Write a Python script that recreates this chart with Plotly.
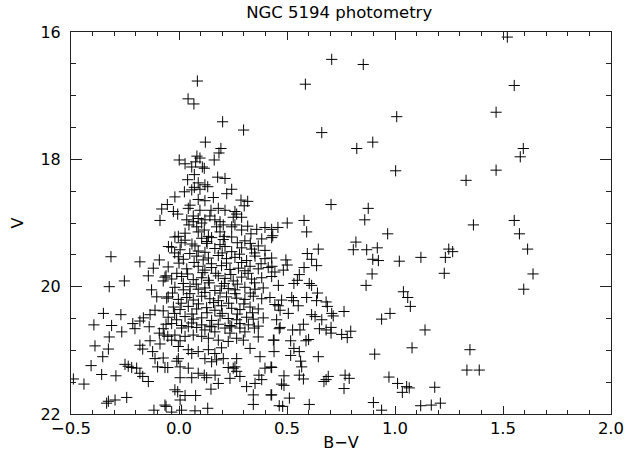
import plotly.graph_objects as go

# (B-V, V) pairs, grouped by region
red_stars = [
    (1.52, 16.08), (0.853, 16.51), (0.707, 16.43), (1.552, 16.84), (0.585, 16.82),
    (1.008, 17.33), (1.468, 17.26), (0.897, 17.73), (1.594, 17.83), (1.580, 17.96),
    (1.003, 18.18), (1.468, 18.17), (1.329, 18.33), (0.876, 18.77), (0.860, 18.95),
    (1.552, 18.96), (1.576, 19.17), (1.363, 19.03), (0.966, 19.17), (1.614, 19.41),
    (0.869, 19.42), (0.918, 19.39), (0.897, 19.57), (0.923, 19.59), (1.020, 19.60),
    (1.120, 19.54), (1.233, 19.54), (1.249, 19.41), (1.267, 19.45), (1.228, 19.79),
    (0.894, 19.80), (0.866, 19.98), (1.639, 19.80), (1.596, 20.04), (1.039, 20.08),
    (1.059, 20.17), (1.071, 20.31), (0.977, 20.42), (0.938, 20.51), (1.139, 20.68),
    (1.079, 20.96), (1.347, 20.99), (0.906, 21.06), (1.333, 21.31), (1.390, 21.31),
    (0.972, 21.42), (1.012, 21.52), (1.034, 21.66), (1.054, 21.57), (1.066, 21.59),
    (1.184, 21.58), (0.900, 21.82), (0.938, 21.94), (1.119, 21.87), (1.168, 21.86),
    (1.210, 21.83),
]

upper_stars = [
    (0.085, 16.77), (0.042, 17.05), (0.069, 17.13), (0.122, 17.73), (0.202, 17.41),
    (0.299, 17.54), (0.661, 17.58), (0.194, 17.83), (0.823, 17.83), (0.704, 18.71),
    (0.458, 19.07), (0.501, 19.00), (0.579, 18.96), (0.591, 19.14), (0.434, 19.20),
    (-0.080, 18.78), (-0.054, 18.71), (-0.088, 18.96),
    (0.185, 17.90), (0.001, 18.01), (0.028, 18.07), (0.083, 17.95), (0.097, 17.98),
    (0.077, 18.04), (0.163, 18.01), (0.059, 18.12), (0.117, 18.14), (0.108, 18.12),
    (0.071, 18.24), (0.179, 18.28), (0.213, 18.30), (0.040, 18.32), (0.089, 18.37),
    (0.120, 18.40), (0.133, 18.43), (0.071, 18.44), (0.059, 18.48), (0.244, 18.47),
    (0.221, 18.54), (0.025, 18.51), (0.097, 18.47), (-0.019, 18.59), (0.089, 18.63),
    (0.120, 18.65), (0.159, 18.60), (0.287, 18.64), (0.318, 18.66), (0.302, 18.73),
    (0.051, 18.72), (0.043, 18.77), (-0.026, 18.82), (-0.006, 18.86), (0.097, 18.80),
    (0.182, 18.77), (0.213, 18.80), (0.148, 18.80), (0.259, 18.82), (0.290, 18.91),
    (0.066, 18.89), (0.089, 18.93),
    (0.036, 18.95), (0.046, 19.03), (0.066, 18.98), (0.082, 19.06), (0.089, 19.14),
    (0.105, 19.00), (0.117, 19.11), (0.136, 19.21), (0.166, 18.95), (0.174, 19.06),
    (0.190, 18.98), (0.190, 19.14), (0.205, 19.03), (0.210, 19.21), (0.244, 19.06),
    (0.259, 19.03), (0.290, 19.11), (0.318, 19.05), (0.333, 19.17), (0.360, 19.10),
    (0.398, 19.07), (0.429, 19.10), (-0.003, 19.21), (0.028, 19.16), (0.251, 18.91),
    (0.267, 18.86), (0.143, 18.89), (0.120, 18.95),
]

blue_stars = [
    (-0.315, 19.53), (-0.181, 19.61), (-0.091, 19.58), (-0.119, 19.71), (-0.142, 19.83),
    (-0.060, 19.83), (-0.073, 19.91), (-0.253, 19.91), (-0.323, 20.00), (-0.127, 20.05),
    (-0.103, 20.16), (-0.350, 20.42), (-0.269, 20.44), (-0.394, 20.60), (-0.312, 20.61),
    (-0.214, 20.58), (-0.181, 20.54), (-0.165, 20.49), (-0.134, 20.44), (-0.111, 20.37),
    (-0.073, 20.38), (-0.057, 20.18), (-0.138, 20.63), (-0.060, 20.59), (-0.049, 19.37),
    (-0.265, 20.71), (-0.204, 20.66), (-0.073, 20.66), (-0.323, 20.79), (-0.389, 20.93),
    (-0.327, 20.98), (-0.353, 21.10), (-0.407, 21.24), (-0.358, 21.38), (-0.292, 21.40),
    (-0.489, 21.45), (-0.440, 21.53), (-0.250, 21.22), (-0.235, 21.25), (-0.219, 21.27),
    (-0.196, 21.28), (-0.181, 21.36), (-0.168, 21.41), (-0.142, 21.49), (-0.181, 20.92),
    (-0.168, 20.98), (-0.134, 20.85), (-0.088, 20.90), (-0.122, 21.02), (-0.111, 21.13),
    (-0.073, 21.12), (-0.099, 21.26), (-0.065, 21.27), (-0.091, 20.73), (-0.069, 20.76),
    (-0.335, 21.83), (-0.327, 21.80), (-0.296, 21.78), (-0.242, 21.74), (-0.116, 21.94),
    (-0.060, 21.88),
]

faint_stars = [
    (-0.065, 21.86), (-0.034, 21.97), (0.012, 21.94), (0.074, 21.95), (0.133, 21.91),
    (0.005, 21.78), (-0.006, 21.65), (-0.019, 21.62), (0.028, 21.71), (0.077, 21.71),
    (0.148, 21.61), (0.344, 21.70), (0.344, 21.85), (0.426, 21.70), (-0.052, 21.27),
    (-0.003, 21.13), (-0.010, 21.17), (0.005, 21.26), (0.043, 21.28), (0.059, 21.43),
    (0.005, 21.43), (0.089, 21.36), (0.117, 21.39), (0.128, 21.43), (0.167, 21.39),
    (0.182, 21.52), (0.228, 21.27), (0.251, 21.28), (0.236, 21.44), (0.282, 21.41),
    (0.267, 21.33), (0.313, 21.57), (0.352, 21.52), (0.370, 21.39), (0.383, 21.46),
    (0.398, 21.28), (0.426, 21.26), (-0.003, 20.94), (0.005, 20.85), (0.043, 20.99),
    (0.059, 21.05), (0.089, 21.02), (0.120, 21.13), (0.151, 21.18), (0.174, 21.15),
    (0.205, 21.13), (0.267, 21.13), (0.259, 21.26), (0.136, 20.99), (0.166, 21.05),
    (0.197, 20.96), (0.375, 21.10), (0.329, 20.97), (0.437, 20.84), (0.367, 20.79),
    (0.349, 20.65),
    (0.012, 20.65), (0.043, 20.63), (0.082, 20.64), (0.120, 20.68), (0.166, 20.71),
    (0.213, 20.65), (0.244, 20.63), (0.282, 20.65), (0.267, 20.81), (0.298, 20.84),
    (0.228, 20.86), (0.182, 20.84), (0.136, 20.81), (0.105, 20.78), (0.066, 20.76),
    (0.028, 20.78), (-0.019, 20.76), (-0.034, 20.84), (-0.052, 20.78), (0.305, 20.71),
    (0.236, 20.73), (0.151, 20.63),
    (0.464, 20.66), (0.526, 20.68), (0.560, 20.68), (0.650, 20.66), (0.681, 20.68),
    (0.704, 20.64), (0.704, 20.73), (0.753, 20.75), (0.779, 20.80), (0.795, 20.70),
    (0.440, 20.84), (0.517, 20.85), (0.588, 20.85), (0.600, 20.83), (0.532, 20.97),
    (0.517, 21.08), (0.557, 21.02), (0.440, 21.02), (0.563, 21.17), (0.568, 21.26),
    (0.645, 21.10), (0.429, 21.27), (0.486, 21.40), (0.475, 21.53), (0.486, 21.55),
    (0.557, 21.39), (0.576, 21.45), (0.671, 21.49), (0.691, 21.41), (0.681, 21.46),
    (0.769, 21.39), (0.788, 21.44), (0.764, 21.60), (0.429, 21.70), (0.511, 21.75),
    (0.464, 21.87), (0.480, 21.88), (0.603, 21.85),
]

mid_red_stars = [
    (0.594, 19.48), (0.645, 19.41), (0.614, 19.57), (0.495, 19.58), (0.501, 19.66),
    (0.483, 19.74), (0.444, 19.77), (0.430, 19.68), (0.579, 19.70), (0.637, 19.67),
    (0.557, 19.81), (0.548, 19.90), (0.532, 19.95), (0.603, 19.95), (0.614, 19.98),
    (0.460, 19.98), (0.819, 19.30), (0.807, 19.42), (0.641, 20.10), (0.591, 20.17),
    (0.637, 20.22), (0.522, 20.17), (0.530, 20.22), (0.475, 20.21), (0.552, 20.30),
    (0.444, 20.28), (0.460, 20.30), (0.468, 20.37), (0.506, 20.42), (0.681, 20.24),
    (0.687, 20.31), (0.707, 20.42), (0.714, 20.46), (0.764, 20.39), (0.614, 20.44),
    (0.630, 20.47), (0.661, 20.52), (0.576, 20.59), (0.452, 20.52), (0.468, 20.64),
]

core_stars = [
    (-0.019, 19.22), (0.028, 19.27), (0.105, 19.24), (0.128, 19.29), (0.151, 19.23),
    (0.205, 19.26), (0.244, 19.22), (0.305, 19.28), (0.383, 19.25), (0.429, 19.23),
    (-0.034, 19.38), (0.005, 19.42), (0.074, 19.36), (0.089, 19.44), (0.166, 19.40),
    (0.213, 19.37), (0.244, 19.45), (0.290, 19.39), (0.336, 19.41), (0.367, 19.36),
    (0.398, 19.43),
    (-0.003, 19.53), (0.020, 19.57), (0.082, 19.52), (0.112, 19.58), (0.136, 19.55),
    (0.182, 19.51), (0.220, 19.56), (0.259, 19.54), (0.313, 19.59), (0.352, 19.52),
    (0.398, 19.56), (0.429, 19.55),
    (-0.050, 19.69), (0.036, 19.72), (0.089, 19.68), (0.120, 19.74), (0.151, 19.70),
    (0.197, 19.67), (0.236, 19.73), (0.275, 19.71), (0.305, 19.75), (0.329, 19.68),
    (0.367, 19.72), (0.413, 19.70),
    (-0.065, 19.85), (-0.034, 19.88), (0.012, 19.84), (0.066, 19.89), (0.105, 19.86),
    (0.136, 19.90), (0.182, 19.83), (0.213, 19.87), (0.251, 19.91), (0.290, 19.85),
    (0.336, 19.88), (0.383, 19.86), (0.429, 19.84),
    (-0.019, 20.01), (0.020, 20.05), (0.051, 20.00), (0.089, 20.04), (0.120, 20.02),
    (0.166, 20.06), (0.197, 19.99), (0.228, 20.03), (0.259, 20.05), (0.305, 20.01),
    (0.352, 20.04), (0.390, 20.02),
    (-0.050, 20.16), (-0.003, 20.20), (0.036, 20.17), (0.066, 20.21), (0.105, 20.15),
    (0.143, 20.19), (0.182, 20.22), (0.220, 20.16), (0.267, 20.18), (0.305, 20.20),
    (0.344, 20.15), (0.383, 20.19), (0.421, 20.17),
    (-0.026, 20.32), (0.005, 20.36), (0.043, 20.31), (0.082, 20.35), (0.128, 20.33),
    (0.166, 20.37), (0.197, 20.30), (0.244, 20.34), (0.282, 20.36), (0.329, 20.32),
    (0.367, 20.35),
    (-0.050, 20.48), (-0.011, 20.52), (0.028, 20.47), (0.066, 20.51), (0.105, 20.49),
    (0.151, 20.53), (0.190, 20.46), (0.228, 20.50), (0.267, 20.52), (0.313, 20.48),
    (0.344, 20.51), (0.390, 20.49),
    (-0.034, 20.58), (0.012, 20.61), (0.059, 20.57), (0.105, 20.60), (0.143, 20.62),
    (0.182, 20.59), (0.236, 20.61), (0.282, 20.58), (0.321, 20.60), (0.367, 20.62),
    (0.010, 19.31), (0.060, 19.33), (0.130, 19.32), (0.190, 19.34), (0.270, 19.31), (0.330, 19.32),
    (-0.020, 19.47), (0.050, 19.48), (0.120, 19.46), (0.200, 19.47), (0.280, 19.49), (0.350, 19.47),
    (0.000, 19.63), (0.070, 19.62), (0.150, 19.64), (0.220, 19.63), (0.290, 19.62), (0.380, 19.64),
    (-0.010, 19.79), (0.040, 19.80), (0.110, 19.78), (0.170, 19.79), (0.240, 19.81), (0.320, 19.79),
    (0.020, 19.95), (0.080, 19.96), (0.140, 19.94), (0.210, 19.95), (0.270, 19.96), (0.350, 19.94),
    (-0.030, 20.10), (0.050, 20.11), (0.120, 20.09), (0.190, 20.10), (0.260, 20.11), (0.330, 20.10),
    (0.010, 20.26), (0.090, 20.27), (0.160, 20.25), (0.230, 20.26), (0.300, 20.27),
    (-0.020, 20.42), (0.060, 20.43), (0.130, 20.41), (0.200, 20.42), (0.270, 20.43), (0.340, 20.41),
]

groups = [red_stars, upper_stars, blue_stars, faint_stars, mid_red_stars, core_stars]
bv = [p[0] for g in groups for p in g]
vmag = [p[1] for g in groups for p in g]

font_family = "DejaVu Sans, sans-serif"
axis_color = "#222222"

fig = go.Figure()
fig.add_trace(go.Scatter(
    x=bv, y=vmag, mode="markers",
    marker=dict(symbol="cross-thin", size=8, color="black",
                line=dict(color="black", width=1)),
    hoverinfo="skip", showlegend=False,
))

fig.update_layout(
    width=640, height=468,
    margin=dict(l=71, r=29, t=32, b=54),
    paper_bgcolor="white", plot_bgcolor="white",
    title=dict(text="NGC 5194 photometry", x=0.53, xanchor="center",
               y=0.974, yanchor="middle",
               font=dict(family=font_family, size=16.5, color="black")),
    font=dict(family=font_family, size=16, color="black"),
)

fig.update_xaxes(
    range=[-0.5, 2.0], dtick=0.5, tick0=0, tickformat=".1f",
    ticks="inside", ticklen=8, tickwidth=1, tickcolor=axis_color,
    minor=dict(dtick=0.1, ticks="inside", ticklen=4, tickwidth=1, tickcolor=axis_color),
    showline=True, linecolor=axis_color, linewidth=1, mirror="ticks",
    showgrid=False, zeroline=False, automargin=False,
    title=dict(text="B−V", standoff=0, font=dict(size=16)),
    tickfont=dict(size=16.5), ticklabelstandoff=-1,
)
fig.update_yaxes(
    range=[22, 16], dtick=2, tick0=16,
    ticks="inside", ticklen=11, tickwidth=1, tickcolor=axis_color,
    minor=dict(dtick=0.5, ticks="inside", ticklen=5, tickwidth=1, tickcolor=axis_color),
    showline=True, linecolor=axis_color, linewidth=1, mirror="ticks",
    showgrid=False, zeroline=False, automargin=False,
    title=dict(text="V", standoff=12, font=dict(size=16)),
    tickfont=dict(size=16), ticklabelstandoff=6,
)

fig.write_html("out.html", config={"displayModeBar": False},
               post_script="document.body.style.margin='0';")
